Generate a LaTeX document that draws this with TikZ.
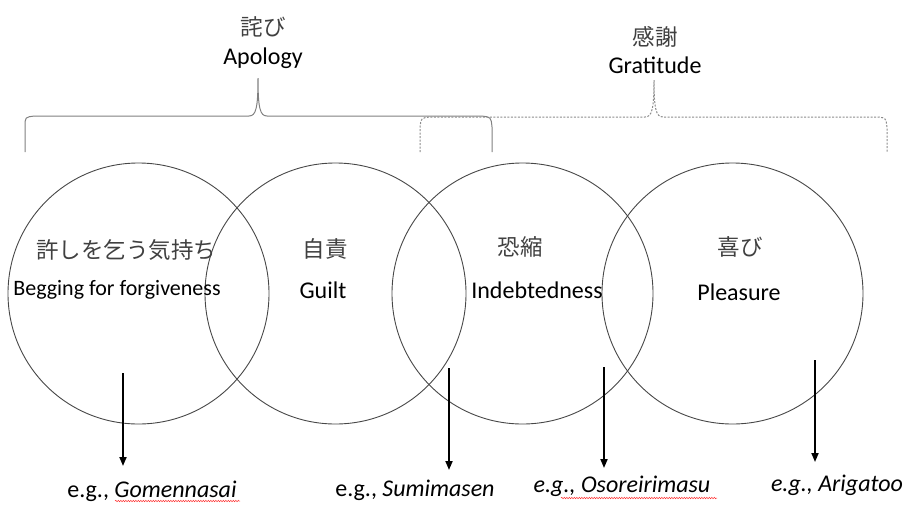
\documentclass[tikz,border=0pt]{standalone}
\usepackage{fontspec}
\setmainfont{Carlito}
\newfontfamily\jp{Noto Sans CJK JP}
\usetikzlibrary{arrows.meta,decorations.pathmorphing}

\begin{document}
\begin{tikzpicture}[x=1pt,y=-1pt,
  feeling/.style={draw=black!72,line width=0.9pt,circle,minimum size=261pt,inner sep=0pt},
  jptext/.style={font=\jp\fontsize{22.5}{26}\selectfont,text=black!75,inner sep=0pt},
  entext/.style={font=\fontsize{24}{28}\selectfont,text=black,inner sep=0pt},
  egtext/.style={font=\fontsize{24}{28}\selectfont,text=black,inner sep=0pt,anchor=base},
  apobrace/.style={draw=black!50,line width=1pt},
  grabrace/.style={draw=black!45,line width=1pt,dash pattern=on 2pt off 1.5pt},
  example/.style={draw=black,line width=1.8pt,-{Triangle[length=9pt,width=7pt]}},
  spell/.style={draw=red!80,line width=0.5pt,decorate,decoration={snake,amplitude=0.7pt,segment length=2.5pt}}]
\useasboundingbox (0,0) rectangle (909,504);

% four feelings
\node[feeling] (beg) at (138.5,293.5) {};
\node[feeling] (gui) at (335.5,293.5) {};
\node[feeling] (ind) at (522.5,293.5) {};
\node[feeling] (ple) at (732.5,293.5) {};

\node[jptext] (begJ) at (126,250) {許しを乞う気持ち};
\node[entext, font=\fontsize{22}{26}\selectfont] (begE) at (117,290) {Begging for forgiveness};
\node[jptext] (guiJ) at (325,249) {自責};
\node[entext] (guiE) at (323,290) {Guilt};
\node[jptext] (indJ) at (520,247) {恐縮};
\node[entext] (indE) at (537,290) {Indebtedness};
\node[jptext] (pleJ) at (740,247) {喜び};
\node[entext] (pleE) at (739,292) {Pleasure};

% apology and gratitude braces
\coordinate (apoTip) at (258,78);
\coordinate (graTip) at (654,80);
\draw[apobrace] (25,152) -- (25,127) .. controls (25,117) .. (35,116) -- (249,116)
  .. controls (256,116) and (258,108) .. (apoTip) .. controls (258,108) and (260,116) .. (267,116)
  -- (481,116) .. controls (491,117) .. (492,127) -- (492,152);
\draw[grabrace] (420,152) -- (420,128) .. controls (421,118) .. (430,117) -- (645,117)
  .. controls (652,117) and (654,109) .. (graTip) .. controls (654,109) and (656,117) .. (663,117)
  -- (878,117) .. controls (886,118) .. (887,128) -- (887,152);

\node[jptext] (apoJ) at (263,27) {詫び};
\node[entext] (apoE) at (263,58) {Apology};
\node[jptext] (graJ) at (655,37) {感謝};
\node[entext] (graE) at (655,65) {Gratitude};

% examples
\node[egtext] (eg1) at (152,497) {e.g., \textit{Gomennasai}};
\node[egtext] (eg2) at (415,496) {e.g., \textit{Sumimasen}};
\node[egtext] (eg3) at (622,492) {\textit{e.g., Osoreirimasu}};
\node[egtext] (eg4) at (837,491) {\textit{e.g., Arigatoo}};

\coordinate (s1) at (123,373);  \coordinate (t1) at (123,466);
\coordinate (s2) at (449,368);  \coordinate (t2) at (449,470);
\coordinate (s3) at (604,367);  \coordinate (t3) at (604,468);
\coordinate (s4) at (815,360);  \coordinate (t4) at (815,462);
\draw[example] (s1) -- (t1);
\draw[example] (s2) -- (t2);
\draw[example] (s3) -- (t3);
\draw[example] (s4) -- (t4);

\draw[spell] (115,501) -- (240,501);
\draw[spell] (561,498) -- (717,498);
\end{tikzpicture}
\end{document}
